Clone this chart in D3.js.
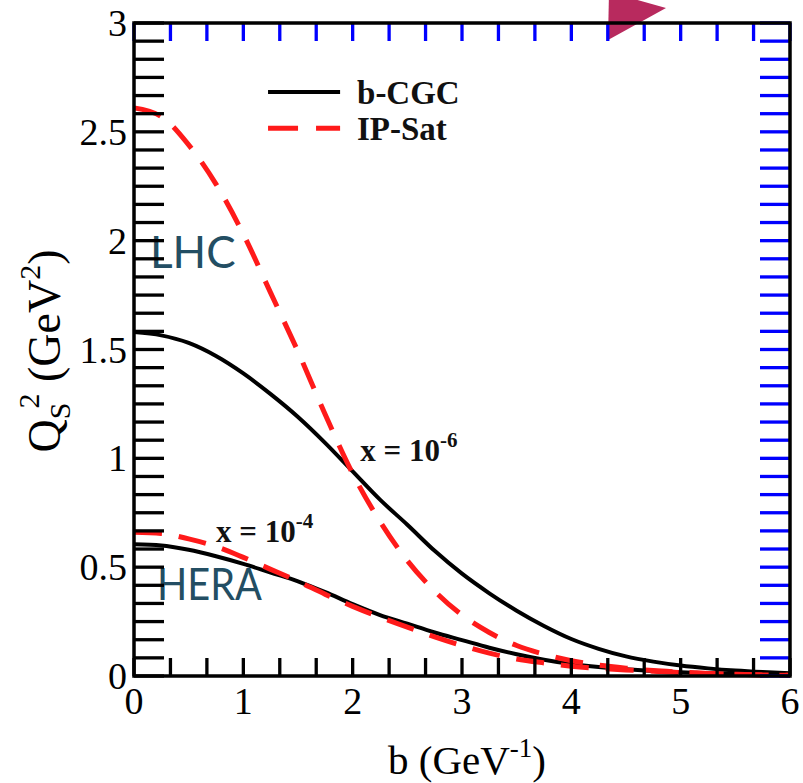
<!DOCTYPE html>
<html>
<head>
<meta charset="utf-8">
<script src="https://cdn.jsdelivr.net/npm/d3@7"></script>
<style>
  body { margin: 0; background: #fff; }
  svg { display: block; }
  .num { font-family: "Liberation Serif", "Times New Roman", serif; font-size: 38px; fill: #000; }
  .ann { font-family: "Liberation Serif", "Times New Roman", serif; font-weight: bold; fill: #111; }
  .coll { font-family: Lato, "Open Sans", sans-serif; font-size: 44px; fill: #234e63; }
</style>
</head>
<body>
<script>
var width = 803, height = 783;

// impact parameter grid (GeV^-1)
var bVals = [0, 0.25, 0.5, 0.75, 1, 1.25, 1.5, 1.75, 2, 2.25, 2.5, 2.75, 3,
             3.25, 3.5, 3.75, 4, 4.25, 4.5, 4.75, 5, 5.25, 5.5, 5.75, 6];

// Qs^2 (GeV^2), x = 1e-6 (LHC)
var lhcCGC   = [1.58, 1.565, 1.53, 1.47, 1.39, 1.295, 1.19, 1.07, 0.94, 0.81, 0.695, 0.575, 0.47,
                0.38, 0.30, 0.23, 0.17, 0.125, 0.09, 0.066, 0.048, 0.035, 0.025, 0.018, 0.013];
var lhcIPSat = [2.61, 2.57, 2.44, 2.26, 2.03, 1.76, 1.49, 1.20, 0.93, 0.71, 0.53, 0.39, 0.28,
                0.20, 0.14, 0.10, 0.07, 0.05, 0.036, 0.025, 0.018, 0.012, 0.008, 0.005, 0.003];

// Qs^2 (GeV^2), x = 1e-4 (HERA)
var heraCGC   = [0.605, 0.60, 0.58, 0.55, 0.515, 0.475, 0.435, 0.385, 0.33, 0.28, 0.24, 0.20, 0.165,
                 0.13, 0.10, 0.075, 0.055, 0.041, 0.031, 0.023, 0.017, 0.013, 0.01, 0.007, 0.005];
var heraIPSat = [0.66, 0.655, 0.63, 0.595, 0.545, 0.49, 0.435, 0.375, 0.32, 0.27, 0.225, 0.18, 0.14,
                 0.105, 0.078, 0.06, 0.045, 0.035, 0.028, 0.022, 0.016, 0.011, 0.008, 0.005, 0.003];

var xMajor = [0, 1, 2, 3, 4, 5, 6];
var yMajor = [0, 0.5, 1, 1.5, 2, 2.5, 3];
var yLabels = ["0", "0.5", "1", "1.5", "2", "2.5", "3"];

var x = d3.scaleLinear().domain([0, 6]).range([134, 790]);
var y = d3.scaleLinear().domain([0, 3]).range([676, 23]);

var xMinor = d3.range(0, 18).map(function(i){ return i / 3; }).filter(function(v, i){ return i % 3 !== 0; });
var yMinor = d3.range(0, 36).map(function(i){ return i / 12; }).filter(function(v, i){ return i % 6 !== 0; });

var svg = d3.select("body").append("svg")
    .attr("width", width)
    .attr("height", height);

// decoration in the top margin
svg.append("path")
   .attr("d", "M609,-8 L666,8 L608,40 Z")
   .attr("fill", "#b82a5e");

// tick labels
svg.selectAll(".xlab")
   .data(xMajor).enter().append("text")
   .attr("class", "num xlab")
   .attr("x", function(d){ return x(d); })
   .attr("y", y(0) + 38)
   .attr("text-anchor", "middle")
   .text(function(d){ return d; });

svg.selectAll(".ylab")
   .data(yMajor).enter().append("text")
   .attr("class", "num ylab")
   .attr("x", x(0) - 7)
   .attr("y", function(d){ return y(d) + 13; })
   .attr("text-anchor", "end")
   .text(function(d, i){ return yLabels[i]; });

var line = d3.line()
    .x(function(d){ return x(d[0]); })
    .y(function(d){ return y(d[1]); })
    .curve(d3.curveMonotoneX);

function pts(vals) { return bVals.map(function(b, i){ return [b, vals[i]]; }); }

var curves = [
  {vals: heraCGC,   color: "#000",    dash: null,    w: 4},
  {vals: lhcCGC,    color: "#000",    dash: null,    w: 4},
  {vals: heraIPSat, color: "#ff1a1a", dash: "28,17", w: 5},
  {vals: lhcIPSat,  color: "#ff1a1a", dash: "28,17", w: 5}
];

svg.selectAll(".curve")
   .data(curves)
   .enter()
   .append("path")
   .attr("class", "curve")
   .attr("d", function(d){ return line(pts(d.vals)); })
   .attr("fill", "none")
   .attr("stroke", function(d){ return d.color; })
   .attr("stroke-width", function(d){ return d.w; })
   .attr("stroke-dasharray", function(d){ return d.dash; });

// legend
var legend = [{name: "b-CGC", color: "#000", dash: null, w: 4, q: 2.683},
              {name: "IP-Sat", color: "#ff1a1a", dash: "30,18", w: 5, q: 2.517}];
legend.forEach(function(l){
  svg.append("line")
     .attr("x1", x(1.226)).attr("x2", x(1.885))
     .attr("y1", y(l.q)).attr("y2", y(l.q))
     .attr("stroke", l.color).attr("stroke-width", l.w)
     .attr("stroke-dasharray", l.dash);
  svg.append("text")
     .attr("class", "ann")
     .attr("x", x(2.04)).attr("y", y(l.q) + 12)
     .style("font-size", "33px")
     .text(l.name);
});

// x labels on curves
function xLabel(b, q, p) {
  var t = svg.append("text").attr("class", "ann").attr("x", x(b)).attr("y", y(q)).style("font-size", "31px");
  t.append("tspan").text("x = 10");
  t.append("tspan").attr("dy", -14).style("font-size", "21px").text(p);
}
xLabel(2.07, 0.99, "-6");
xLabel(0.75, 0.615, "-4");

svg.append("text").attr("class", "coll").attr("x", x(0.146)).attr("y", y(1.874)).text("LHC");
svg.append("text").attr("class", "coll").attr("x", x(0.21)).attr("y", y(0.349))
   .attr("textLength", 105).attr("lengthAdjust", "spacingAndGlyphs").text("HERA");

// axis titles
var xt = svg.append("text").attr("class", "num").attr("x", x(3) + 5).attr("y", 774)
    .attr("text-anchor", "middle").style("font-size", "41px");
xt.append("tspan").text("b (GeV");
xt.append("tspan").attr("dy", -17).style("font-size", "27px").text("-1");
xt.append("tspan").attr("dy", 17).text(")");

var yt = svg.append("text").attr("class", "num")
    .attr("transform", "translate(60,351) rotate(-90)")
    .attr("text-anchor", "middle").style("font-size", "46px");
yt.append("tspan").text("Q");
yt.append("tspan").attr("dy", 10).style("font-size", "30px").text("S");
yt.append("tspan").attr("dx", -6).attr("dy", -31).style("font-size", "30px").text("2");
yt.append("tspan").attr("dy", 21).text(" (GeV");
yt.append("tspan").attr("dy", -20).style("font-size", "30px").text("2");
yt.append("tspan").attr("dy", 20).text(")");

// inward ticks: bottom black 18, top blue 18, left black 30, right blue 30
var tickSegs = [];
xMajor.concat(xMinor).forEach(function(v){
  tickSegs.push({s: [x(v), y(0), x(v), y(0) - 18], c: "#000"});
  tickSegs.push({s: [x(v), y(3), x(v), y(3) + 18], c: "blue"});
});
yMajor.concat(yMinor).forEach(function(v){
  tickSegs.push({s: [x(0), y(v), x(0) + 30, y(v)], c: "#000"});
  tickSegs.push({s: [x(6), y(v), x(6) - 30, y(v)], c: "blue"});
});

svg.selectAll("line.tk")
   .data(tickSegs)
   .enter().append("line")
   .attr("class", "tk")
   .attr("x1", function(d){ return d.s[0]; })
   .attr("y1", function(d){ return d.s[1]; })
   .attr("x2", function(d){ return d.s[2]; })
   .attr("y2", function(d){ return d.s[3]; })
   .attr("stroke", function(d){ return d.c; })
   .attr("stroke-width", 3.3);

// frame
svg.append("path")
   .attr("d", "M" + x(0) + "," + y(3) + "H" + x(6) + "V" + y(0) + "H" + x(0) + "Z")
   .attr("fill", "none")
   .attr("stroke", "#000")
   .attr("stroke-width", 3.5);
</script>
</body>
</html>
